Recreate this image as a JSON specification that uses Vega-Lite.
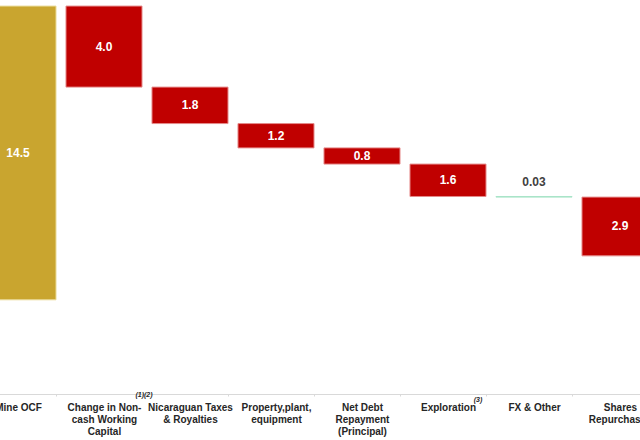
{
  "$schema": "https://vega.github.io/schema/vega-lite/v6.json",
  "width": 688,
  "height": 394,
  "autosize": "none",
  "padding": {"left": -25, "top": 0, "right": -23, "bottom": 46},
  "background": "white",
  "config": {"view": {"stroke": null}},
  "data": {
    "values": [
      {"cat": "Mine OCF", "start": 0, "end": 14.5, "label": "14.5", "type": "total"},
      {"cat": "Change in Non-|cash Working|Capital", "start": 14.5, "end": 10.5, "label": "4.0", "type": "down", "note": "(1)(2)"},
      {"cat": "Nicaraguan Taxes|& Royalties", "start": 10.5, "end": 8.7, "label": "1.8", "type": "down"},
      {"cat": "Property,plant,|equipment", "start": 8.7, "end": 7.5, "label": "1.2", "type": "down"},
      {"cat": "Net Debt|Repayment|(Principal)", "start": 7.5, "end": 6.7, "label": "0.8", "type": "down"},
      {"cat": "Exploration", "start": 6.7, "end": 5.1, "label": "1.6", "type": "down", "note": "(3)"},
      {"cat": "FX & Other", "start": 5.1, "end": 5.07, "label": "0.03", "type": "fx"},
      {"cat": "Shares|Repurchased", "start": 5.07, "end": 2.17, "label": "2.9", "type": "down"}
    ]
  },
  "encoding": {
    "x": {
      "field": "cat",
      "type": "nominal",
      "sort": null,
      "scale": {"paddingInner": 0.116, "paddingOuter": 0.058},
      "axis": {
        "title": null,
        "labelExpr": "split(datum.label, '|')",
        "labelAngle": 0,
        "labelFont": "Liberation Sans",
        "labelFontWeight": "bold",
        "labelFontSize": 10,
        "labelLineHeight": 12,
        "labelColor": "#262626",
        "labelPadding": 6,
        "labelBaseline": "top",
        "labelBound": false,
        "labelOverlap": false,
        "labelLimit": 0,
        "domainColor": "#d9d9d9",
        "domainWidth": 1,
        "tickColor": "#d9d9d9",
        "tickBand": "extent",
        "tickSize": 2,
        "grid": false
      }
    }
  },
  "layer": [
    {
      "mark": {"type": "bar", "strokeWidth": 1},
      "encoding": {
        "y": {"field": "start", "type": "quantitative", "scale": {"domain": [-4.65, 14.8], "nice": false, "zero": false}, "axis": null},
        "y2": {"field": "end"},
        "color": {"field": "type", "type": "nominal", "scale": {"domain": ["total", "down", "fx"], "range": ["#C9A52F", "#C00000", "#A8E4C8"]}, "legend": null},
        "stroke": {"field": "type", "type": "nominal", "scale": {"domain": ["total", "down", "fx"], "range": ["#EADB98", "#E58A8A", "#A8E4C8"]}, "legend": null}
      }
    },
    {
      "transform": [
        {"filter": "datum.type != 'fx'"},
        {"calculate": "(datum.start + datum.end) / 2", "as": "mid"}
      ],
      "mark": {"type": "text", "font": "Liberation Sans", "fontWeight": "bold", "fontSize": 12, "color": "white", "baseline": "middle"},
      "encoding": {
        "y": {"field": "mid", "type": "quantitative"},
        "text": {"field": "label"}
      }
    },
    {
      "transform": [{"filter": "datum.type == 'fx'"}],
      "mark": {"type": "text", "font": "Liberation Sans", "fontWeight": "bold", "fontSize": 12, "color": "#404040", "baseline": "alphabetic", "dy": -10},
      "encoding": {
        "y": {"field": "start", "type": "quantitative"},
        "text": {"field": "label"}
      }
    },
    {
      "transform": [{"filter": "datum.note == '(1)(2)'"}],
      "mark": {"type": "text", "font": "Liberation Sans", "fontStyle": "italic", "fontWeight": "bold", "fontSize": 7, "color": "#262626", "baseline": "middle", "dx": 40, "dy": 1},
      "encoding": {
        "y": {"datum": -4.65, "type": "quantitative"},
        "text": {"field": "note"}
      }
    },
    {
      "transform": [{"filter": "datum.note == '(3)'"}],
      "mark": {"type": "text", "font": "Liberation Sans", "fontStyle": "italic", "fontWeight": "bold", "fontSize": 7, "color": "#262626", "baseline": "middle", "dx": 30, "dy": 6},
      "encoding": {
        "y": {"datum": -4.65, "type": "quantitative"},
        "text": {"field": "note"}
      }
    }
  ]
}
